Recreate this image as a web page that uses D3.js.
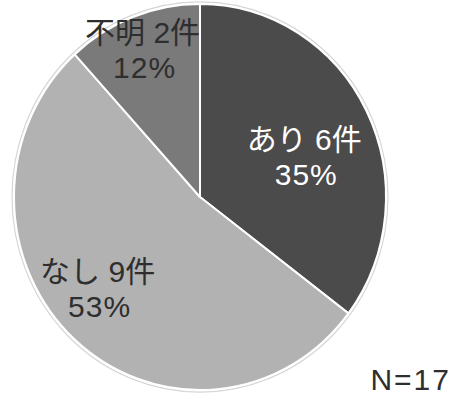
<!DOCTYPE html>
<html>
<head>
<meta charset="utf-8">
<script src="https://cdn.jsdelivr.net/npm/d3@7"></script>
<style>
  html, body { margin: 0; padding: 0; background: #fff; }
  svg { display: block; }
  text { font-family: "Liberation Sans", Arial, "Noto Sans CJK JP", sans-serif; }
</style>
</head>
<body>
<svg id="chart" width="455" height="396"></svg>
<script>
// Survey answers (件数) and their share labels
const categories = ["あり", "なし", "不明"];
const counts = [6, 9, 2];
const percentLabels = ["35%", "53%", "12%"];
const totalLabel = "N=17";

// Layout and styling
const W = 455, H = 396;
const cx = 200, cy = 197, rx = 186, ry = 193;
const sliceColors = ["#4b4b4b", "#b2b2b2", "#7a7a7a"];
const textColors = ["#ffffff", "#2e2e2e", "#2e2e2e"];
// label placement per slice: distance from centre and angular nudge (degrees)
const labelRadius = [112, 137, 159];
const labelNudge = [5, 6, 0];

const svg = d3.select("#chart");

const pie = d3.pie().sort(null).value(d => d)(counts);
const arc = d3.arc().innerRadius(0).outerRadius(rx);

// the pie is drawn slightly taller than wide
const g = svg.append("g")
  .attr("transform", `translate(${cx},${cy}) scale(1,${ry / rx})`);

// faint rim around the disc
g.append("ellipse")
  .attr("rx", rx + 2).attr("ry", rx + 2)
  .attr("fill", "none")
  .attr("stroke", "#d6d6d6")
  .attr("stroke-width", 1.2);

g.selectAll("path.slice")
  .data(pie)
  .join("path")
  .attr("class", "slice")
  .attr("d", arc)
  .attr("fill", (d, i) => sliceColors[i])
  .attr("stroke", "#ffffff")
  .attr("stroke-width", 2)
  .attr("stroke-linejoin", "round");

// data labels: "<category> <n>件" over "<pct>"
const labels = svg.append("g");
pie.forEach((d, i) => {
  const a = (d.startAngle + d.endAngle) / 2 + labelNudge[i] * Math.PI / 180;
  const x = cx + labelRadius[i] * Math.sin(a);
  const y = cy - labelRadius[i] * Math.cos(a);
  const t = labels.append("text")
    .attr("text-anchor", "middle")
    .attr("fill", textColors[i])
    .attr("font-size", 30);
  t.append("tspan").attr("x", x).attr("y", y - 6)
    .text(`${categories[i]} ${counts[i]}件`);
  t.append("tspan").attr("x", x + 2).attr("y", y + 29)
    .attr("letter-spacing", 1)
    .text(percentLabels[i]);
});

svg.append("text")
  .attr("x", 451).attr("y", 390)
  .attr("text-anchor", "end")
  .attr("font-size", 30)
  .attr("letter-spacing", 2)
  .attr("fill", "#2e2e2e")
  .text(totalLabel);
</script>
</body>
</html>
